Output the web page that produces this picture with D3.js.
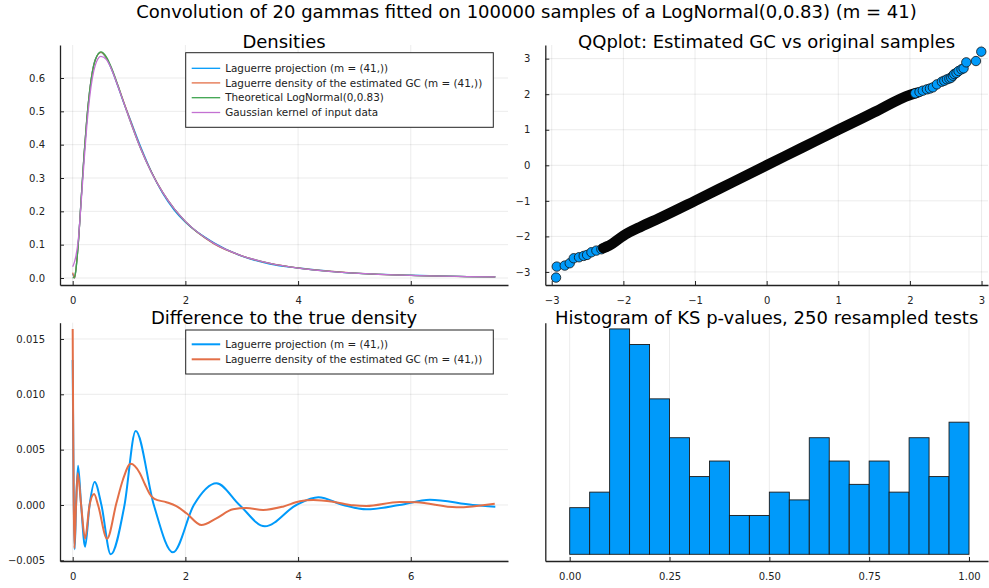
<!DOCTYPE html>
<html><head><meta charset="utf-8">
<script src="https://cdn.jsdelivr.net/npm/d3@7"></script>
<style>body{margin:0;background:#fff}svg{display:block}</style>
</head><body>
<svg id="chart" width="989" height="588"></svg>
<script>
// ---------- DATA ----------
const mainTitle = "Convolution of 20 gammas fitted on 100000 samples of a LogNormal(0,0.83) (m = 41)";
const panelTitles = ["Densities", "QQplot: Estimated GC vs original samples", "Difference to the true density", "Histogram of KS p-values, 250 resampled tests"];
const seriesNames = ["Laguerre projection (m = (41,))", "Laguerre density of the estimated GC (m = (41,))", "Theoretical LogNormal(0,0.83)", "Gaussian kernel of input data"];

// Densities panel
const densityX       = [0, 0.035, 0.05, 0.1, 0.15, 0.2, 0.25, 0.3, 0.4, 0.5, 0.6, 0.7, 0.8, 0.9, 1.0, 1.2, 1.4, 1.6, 1.8, 2.0, 2.5, 3.0, 3.5, 4.0, 4.5, 5.0, 6.0, 7.0, 7.5];
const densityLagProj = [0.013, 0.000, 0.016, 0.106, 0.235, 0.363, 0.474, 0.559, 0.655, 0.677, 0.659, 0.622, 0.576, 0.528, 0.485, 0.397, 0.318, 0.253, 0.204, 0.167, 0.1065, 0.0655, 0.042, 0.030, 0.0214, 0.0144, 0.0082, 0.0043, 0.0033];
const densityLagGC   = [0.016, 0.000, 0.016, 0.105, 0.235, 0.364, 0.475, 0.559, 0.654, 0.677, 0.660, 0.623, 0.578, 0.531, 0.484, 0.392, 0.317, 0.256, 0.208, 0.169, 0.103, 0.0665, 0.0436, 0.0301, 0.0211, 0.0147, 0.0080, 0.0042, 0.0035];
const densityTheory  = [0.000, 0.004, 0.0143, 0.1025, 0.2351, 0.3667, 0.4764, 0.5595, 0.6533, 0.6783, 0.6629, 0.6261, 0.5795, 0.5298, 0.4807, 0.3910, 0.3162, 0.2559, 0.2078, 0.1696, 0.1045, 0.0667, 0.0440, 0.0298, 0.0207, 0.0147, 0.0078, 0.0044, 0.0034];
const densityKernel  = [0.034, 0.050, 0.060, 0.115, 0.225, 0.345, 0.455, 0.540, 0.638, 0.665, 0.655, 0.622, 0.577, 0.529, 0.481, 0.391, 0.316, 0.256, 0.208, 0.170, 0.1045, 0.0667, 0.0440, 0.0298, 0.0207, 0.0147, 0.0078, 0.0044, 0.0034];
const densityYTicks = [0, 0.1, 0.2, 0.3, 0.4, 0.5, 0.6];
const xTicks0to6 = [0, 2, 4, 6];

// Difference panel
const diffProjX = [0, 0.035, 0.06, 0.095, 0.15, 0.22, 0.3, 0.39, 0.51, 0.675, 0.92, 1.118, 1.44, 1.78, 2.15, 2.55, 2.96, 3.41, 3.97, 4.36, 4.8, 5.21, 5.8, 6.34, 7.1, 7.5];
const diffProjY = [0.0131, -0.0040, 0.0, 0.00355, 0.0, -0.00377, 0.0, 0.00208, 0.0, -0.00446, 0.0, 0.00669, 0.0, -0.00428, 0.0, 0.00196, 0.0, -0.00193, 0.0, 0.00069, 0.0, -0.00039, 0.0, 0.00048, 0.0, -0.00015];
const diffGCX = [0, 0.03, 0.06, 0.09, 0.15, 0.22, 0.3, 0.38, 0.45, 0.61, 0.775, 0.89, 1.03, 1.19, 1.28, 1.367, 1.45, 1.663, 1.84, 2.02, 2.284, 2.55, 2.846, 3.083, 3.379, 3.73, 4.03, 4.27, 4.62, 4.98, 5.21, 5.8, 6.1, 6.81, 7.49];
const diffGCY = [0.0159, -0.0039, 0.0, 0.00286, 0.0, -0.00304, 0.0, 0.00099, 0.0, -0.00304, 0.00015, 0.00226, 0.00373, 0.0029, 0.0019, 0.0010, 0.00055, 0.00025, -0.0001, -0.00075, -0.00181, -0.0012, -0.00039, -0.00027, -0.00045, -0.00015, 0.00033, 0.00045, 0.0003, -0.00003, -0.00009, 0.00027, 0.00024, -0.00021, 0.00012];
const diffYTicks = [-0.005, 0, 0.005, 0.010, 0.015];

// QQ panel
const qqLowerTheo   = [-2.94, -2.93, -2.819, -2.749, -2.693, -2.619, -2.554, -2.507, -2.446, -2.377, -2.307, -2.237];
const qqLowerSample = [-3.158, -2.849, -2.821, -2.755, -2.615, -2.587, -2.549, -2.521, -2.446, -2.399, -2.362, -2.287];
const qqBandTheo    = [-2.28, -2.2, -2.0, -1.75, -1.5, -1.0, -0.5, 0, 0.5, 1.0, 1.5, 2.0, 2.1];
const qqBandSample  = [-2.33, -2.26, -1.98, -1.72, -1.49, -1.0, -0.5, 0, 0.5, 1.0, 1.49, 1.98, 2.04];
const qqUpperTheo   = [2.074, 2.134, 2.18, 2.237, 2.28, 2.321, 2.377, 2.446, 2.48, 2.516, 2.55, 2.577, 2.60, 2.619, 2.65, 2.679, 2.72, 2.749, 2.787, 2.922, 2.996];
const qqUpperSample = [2.024, 2.062, 2.10, 2.137, 2.16, 2.193, 2.277, 2.352, 2.38, 2.418, 2.44, 2.465, 2.52, 2.568, 2.60, 2.652, 2.70, 2.727, 2.896, 2.933, 3.196];
const qqTicks = [-3, -2, -1, 0, 1, 2, 3];

// Histogram panel
const pValueBinEdges = [0, 0.05, 0.10, 0.15, 0.20, 0.25, 0.30, 0.35, 0.40, 0.45, 0.50, 0.55, 0.60, 0.65, 0.70, 0.75, 0.80, 0.85, 0.90, 0.95, 1.00];
const pValueCounts = [6, 8, 29, 27, 20, 15, 10, 12, 5, 5, 8, 7, 15, 12, 9, 12, 8, 15, 10, 17];
const histXTicks = [0, 0.25, 0.5, 0.75, 1.0];

// ---------- STYLE ----------
const colors = ["#009AFA", "#E36F47", "#3EA44E", "#C371D2"];
const FONT = "DejaVu Sans";
const svg = d3.select("#chart");

svg.append("text").attr("x", 526.5).attr("y", 18.3).attr("text-anchor", "middle")
  .attr("font-family", FONT).attr("font-size", 18).attr("fill", "#000").text(mainTitle);

const panels = {
  tl: {x0: 60, x1: 508, y0: 45, y1: 285},
  tr: {x0: 545.3, x1: 988, y0: 45, y1: 285},
  bl: {x0: 60, x1: 508, y0: 322.7, y1: 561},
  br: {x0: 545.3, x1: 988, y0: 322.7, y1: 561}
};

function frame(p, xs, ys, xt, yt, xfmt, yfmt, title, titleY) {
  const g = svg.append("g");
  g.selectAll(".vg").data(xt).join("line")
    .attr("x1", d => xs(d)).attr("x2", d => xs(d)).attr("y1", p.y0).attr("y2", p.y1)
    .attr("stroke", "#000").attr("stroke-opacity", 0.1).attr("stroke-width", 0.8);
  g.selectAll(".hg").data(yt).join("line")
    .attr("y1", d => ys(d)).attr("y2", d => ys(d)).attr("x1", p.x0).attr("x2", p.x1)
    .attr("stroke", "#000").attr("stroke-opacity", 0.1).attr("stroke-width", 0.8);
  const ax = svg.append("g").attr("transform", `translate(0,${p.y1})`)
    .call(d3.axisBottom(xs).tickValues(xt).tickFormat(xfmt).tickSizeInner(-4).tickSizeOuter(0).tickPadding(11.4));
  const ay = svg.append("g").attr("transform", `translate(${p.x0},0)`)
    .call(d3.axisLeft(ys).tickValues(yt).tickFormat(yfmt).tickSizeInner(-4).tickSizeOuter(0).tickPadding(15));
  [ax, ay].forEach(a => {
    a.select(".domain").attr("stroke", "#222").attr("stroke-width", 1.3);
    a.selectAll(".tick line").attr("stroke", "#222").attr("stroke-width", 1);
    a.selectAll("text").attr("font-family", FONT).attr("font-size", 10).attr("fill", "#222");
  });
  svg.append("text").attr("x", (p.x0 + p.x1) / 2).attr("y", titleY).attr("text-anchor", "middle")
    .attr("font-family", FONT).attr("font-size", 18).attr("fill", "#000").text(title);
  return {ax, ay};
}

function legend(x0, y0, x1, y1, rows) {
  const g = svg.append("g");
  g.append("rect").attr("x", x0).attr("y", y0).attr("width", x1 - x0).attr("height", y1 - y0)
    .attr("fill", "#fff").attr("stroke", "#222").attr("stroke-width", 1);
  rows.forEach(r => {
    g.append("line").attr("x1", x0 + 6).attr("x2", x0 + 34.5).attr("y1", r.y).attr("y2", r.y)
      .attr("stroke", r.color).attr("stroke-width", r.w);
    g.append("text").attr("x", x0 + 39.5).attr("y", r.y).attr("dy", "0.35em")
      .attr("font-family", FONT).attr("font-size", 10.4).attr("fill", "#222").text(r.name);
  });
}

// ---------- Densities ----------
{
  const p = panels.tl;
  const xs = d3.scaleLinear().domain([-0.225, 7.725]).range([p.x0, p.x1]);
  const ys = d3.scaleLinear().domain([-0.021, 0.699]).range([p.y1, p.y0]);
  frame(p, xs, ys, xTicks0to6, densityYTicks, d3.format("d"), d3.format(".1f"), panelTitles[0], 47.7);
  const series = [densityLagProj, densityLagGC, densityTheory, densityKernel];
  const line = d3.line().x((d, i) => xs(densityX[i])).y(d => ys(d)).curve(d3.curveMonotoneX);
  series.forEach((s, k) => {
    svg.append("path").attr("d", line(s)).attr("fill", "none").attr("stroke", colors[k]).attr("stroke-width", 1.3);
  });
  legend(185.7, 52.7, 493.3, 127.3, seriesNames.map((n, k) => ({name: n, color: colors[k], y: [68.3, 82.9, 97.7, 112.5][k], w: 1.3})));
}

// ---------- Difference ----------
{
  const p = panels.bl;
  const xs = d3.scaleLinear().domain([-0.225, 7.725]).range([p.x0, p.x1]);
  const ys = d3.scaleLinear().domain([-0.00506, 0.01647]).range([p.y1, p.y0]);
  frame(p, xs, ys, xTicks0to6, diffYTicks, d3.format("d"), d3.format(".3f"), panelTitles[2], 324);
  const lp = d3.line().x((d, i) => xs(diffProjX[i])).y(d => ys(d)).curve(d3.curveMonotoneX);
  const lg = d3.line().x((d, i) => xs(diffGCX[i])).y(d => ys(d)).curve(d3.curveMonotoneX);
  svg.append("path").attr("d", lp(diffProjY)).attr("fill", "none").attr("stroke", colors[0]).attr("stroke-width", 2);
  svg.append("path").attr("d", lg(diffGCY)).attr("fill", "none").attr("stroke", colors[1]).attr("stroke-width", 2);
  legend(185.7, 330, 493.3, 374, seriesNames.slice(0, 2).map((n, k) => ({name: n, color: colors[k], y: [344.3, 359.3][k], w: 2})));
}

// ---------- QQ plot ----------
{
  const p = panels.tr;
  const xs = d3.scaleLinear().domain([-3.09, 3.09]).range([p.x0, p.x1]);
  const ys = d3.scaleLinear().domain([-3.367, 3.384]).range([p.y1, p.y0]);
  frame(p, xs, ys, qqTicks, qqTicks, d3.format("d"), d3.format("d"), panelTitles[1], 47.7);
  const dot = (tx, sy) => svg.append("g").selectAll("circle").data(tx).join("circle")
    .attr("cx", d => xs(d)).attr("cy", (d, i) => ys(sy[i])).attr("r", 4.7)
    .attr("fill", colors[0]).attr("stroke", "#111").attr("stroke-width", 0.8);
  dot(qqLowerTheo, qqLowerSample);
  const band = d3.line().x((d, i) => xs(qqBandTheo[i])).y(d => ys(d)).curve(d3.curveMonotoneX);
  svg.append("path").attr("d", band(qqBandSample)).attr("fill", "none").attr("stroke", "#050505")
    .attr("stroke-width", 10.5).attr("stroke-linecap", "round");
  dot(qqUpperTheo, qqUpperSample);
}

// ---------- Histogram ----------
{
  const p = panels.br;
  const xs = d3.scaleLinear().domain([-0.0611, 1.0476]).range([p.x0, p.x1]);
  const ys = d3.scaleLinear().domain([-0.862, 29.8]).range([p.y1, p.y0]);
  frame(p, xs, ys, histXTicks, [], d3.format(".2f"), d3.format("d"), panelTitles[3], 324);
  svg.append("g").selectAll("rect").data(pValueCounts).join("rect")
    .attr("x", (d, i) => xs(pValueBinEdges[i])).attr("width", (d, i) => xs(pValueBinEdges[i + 1]) - xs(pValueBinEdges[i]))
    .attr("y", d => ys(d)).attr("height", d => ys(0) - ys(d))
    .attr("fill", colors[0]).attr("stroke", "#1a1a1a").attr("stroke-width", 0.9);
}
</script>
</body></html>
